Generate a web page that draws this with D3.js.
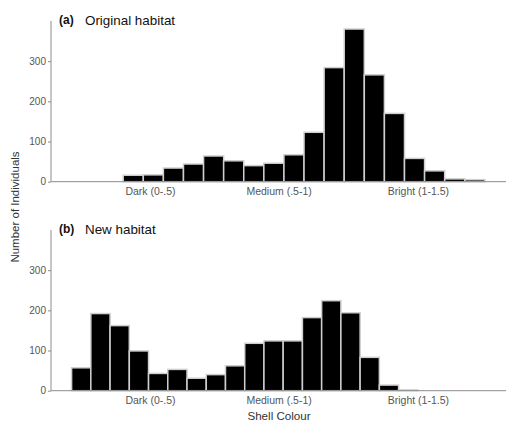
<!DOCTYPE html>
<html>
<head>
<meta charset="utf-8">
<script src="https://cdn.jsdelivr.net/npm/d3@7/dist/d3.min.js"></script>
<style>
  body { margin: 0; background: #fff; }
  svg { display: block; font-family: "Liberation Sans", Arial, sans-serif; }
</style>
</head>
<body>
<svg id="chart" width="532" height="426"></svg>
<script>
// ---- data ----
const panelTitles = ["(a)", "(b)"];
const panelNames = ["Original habitat", "New habitat"];
// histogram counts per bin
const originalCounts = [16, 17, 34, 44, 64, 52, 40, 46, 67, 123, 284, 380, 266, 170, 58, 27, 7, 5];
const newCounts = [57, 192, 162, 99, 43, 53, 31, 40, 62, 118, 124, 124, 182, 224, 194, 83, 14, 2];
// bin start and width (shell colour units)
const originalBinStart = 0.15, originalBinWidth = 0.075;
const newBinStart = -0.0426, newBinWidth = 0.0718;
const xTickValues = [0.25, 0.73, 1.25];
const xTickLabels = ["Dark (0-.5)", "Medium (.5-1)", "Bright (1-1.5)"];
const yTickValues = [0, 100, 200, 300];
const xTitle = "Shell Colour";
const yTitle = "Number of Individuals";

// ---- layout ----
const svg = d3.select("#chart");
const left = 51, right = 506;
const panelTops = [21, 230];
const panelH = 160.7;

const x = d3.scaleLinear().domain([-0.1195, 1.5789]).range([left, right]);

const panels = [
  { counts: originalCounts, start: originalBinStart, width: originalBinWidth },
  { counts: newCounts, start: newBinStart, width: newBinWidth }
];

panels.forEach((p, i) => {
  const top = panelTops[i];
  const y = d3.scaleLinear().domain([0, 400]).range([top + panelH, top]);
  const g = svg.append("g");

  const bins = p.counts.map((c, k) => ({ x0: p.start + k * p.width, x1: p.start + (k + 1) * p.width, c }));
  g.selectAll("rect").data(bins).join("rect")
    .attr("x", d => x(d.x0))
    .attr("width", d => x(d.x1) - x(d.x0))
    .attr("y", d => y(d.c))
    .attr("height", d => y(0) - y(d.c))
    .attr("fill", "#000")
    .attr("stroke", "#cfcfcf")
    .attr("stroke-width", 1.5);

  // y axis
  const ya = g.append("g").attr("transform", `translate(${left},0)`)
    .call(d3.axisLeft(y).tickValues(yTickValues).tickSize(3).tickPadding(2));
  ya.select(".domain").attr("stroke", "#8c8c8c").attr("d", `M0,${y(400)}V${y(0)}`);
  ya.selectAll(".tick line").attr("stroke", "#8c8c8c");
  ya.selectAll(".tick text").attr("fill", "#555").attr("font-size", 10)
    .attr("font-family", "'Liberation Sans', Arial, sans-serif");

  // x axis
  const xa = g.append("g").attr("transform", `translate(0,${y(0)})`)
    .call(d3.axisBottom(x).tickValues(xTickValues).tickFormat((d, k) => xTickLabels[k]).tickSize(0).tickPadding(6));
  xa.select(".domain").attr("stroke", "#8c8c8c").attr("d", `M${left},0H${right}`);
  xa.selectAll(".tick text").attr("fill", "#555").attr("font-size", 10.5)
    .attr("font-family", "'Liberation Sans', Arial, sans-serif");

  // panel title
  g.append("text").attr("x", 59).attr("y", top + 3).attr("font-weight", "bold")
    .attr("font-size", 12).attr("fill", "#111").text(panelTitles[i]);
  g.append("text").attr("x", 85).attr("y", top + 3.5)
    .attr("font-size", 13.4).attr("fill", "#111").text(panelNames[i]);
});

// axis titles
svg.append("text").attr("x", 279).attr("y", 420).attr("text-anchor", "middle")
  .attr("font-size", 11.6).attr("fill", "#333").text(xTitle);
svg.append("text").attr("transform", "translate(19,207) rotate(-90)")
  .attr("text-anchor", "middle").attr("font-size", 11.5).attr("fill", "#333").text(yTitle);
</script>
</body>
</html>
